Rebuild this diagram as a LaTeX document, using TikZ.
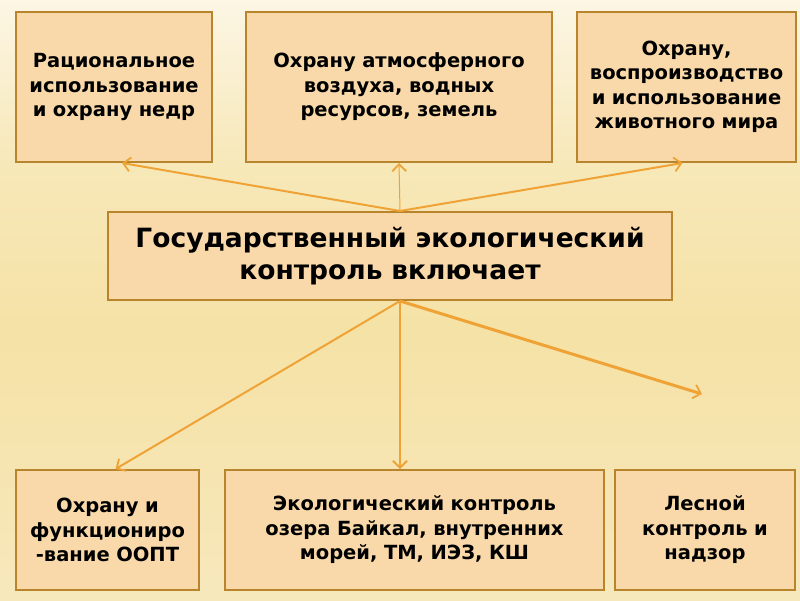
\documentclass[tikz,border=0pt]{standalone}
\usepackage{fontspec}
\setmainfont{DejaVu Sans}
\usetikzlibrary{arrows.meta}
\definecolor{boxfill}{HTML}{F9D9A9}
\definecolor{boxline}{HTML}{B8842C}
\definecolor{arrowc}{HTML}{EFA336}
\definecolor{bgtop}{HTML}{FCF6E4}
\definecolor{bgmid}{HTML}{F5E2A6}
\definecolor{bgbot}{HTML}{F7E8BC}
\tikzset{
  box/.style={draw=boxline, fill=boxfill, line width=2pt, align=center,
    inner sep=0pt, font=\bfseries\fontsize{19.5}{24.5}\selectfont},
  link/.style={draw=arrowc, line width=2pt,
    -{Straight Barb[length=7pt,width=14pt,line width=1.8pt]}},
}
\begin{document}
\begin{tikzpicture}[x=1pt, y=-1pt]
  % Фон
  \shade[top color=bgtop, bottom color=bgmid, middle color=bgmid!70!bgtop]
    (0,0) rectangle (800,330);
  \shade[top color=bgmid, bottom color=bgbot] (0,330) rectangle (800,600);
  \useasboundingbox (0,0) rectangle (800,600);

  % Верхний ряд
  \node[box, minimum width=196pt, minimum height=150pt, text width=190pt]
    (nedra) at (114,87) {Рациональное\\использование\\и охрану недр};
  \node[box, minimum width=306pt, minimum height=150pt, text width=290pt]
    (vozduh) at (399,87) {Охрану атмосферного\\воздуха, водных\\ресурсов, земель};
  \node[box, minimum width=219pt, minimum height=150pt, text width=215pt]
    (fauna) at (686.5,87) {Охрану,\\воспроизводство\\и использование\\животного мира};

  % Центр
  \node[box, minimum width=564pt, minimum height=88pt, text width=550pt,
    font=\bfseries\fontsize{26.5}{32}\selectfont]
    (kontrol) at (390,256) {Государственный экологический\\контроль включает};

  % Нижний ряд
  \node[box, minimum width=183pt, minimum height=120pt, text width=180pt]
    (oopt) at (107.5,530) {Охрану и\\функциониро\\-вание ООПТ};
  \node[box, minimum width=379pt, minimum height=120pt, text width=365pt]
    (baikal) at (414.5,530) {Экологический контроль\\озера Байкал, внутренних\\морей, ТМ, ИЭЗ, КШ};
  \node[box, minimum width=180pt, minimum height=120pt, text width=170pt]
    (les) at (705,530) {Лесной\\контроль и\\надзор};

  % Стрелки
  \coordinate (up) at (400,211);
  \coordinate (down) at (400,301);
  \coordinate (free) at (702,394);
  \draw[link] (up) -- ([xshift=8pt]nedra.south);
  \draw[link, line width=1pt] (up) -- (vozduh.south);
  \draw[link] (up) -- ([xshift=-4pt]fauna.south);
  \draw[link] (down) -- ([xshift=8pt]oopt.north);
  \draw[link, line width=2.5pt] (down) -- (baikal.north -| down);
  \draw[link, line width=3pt] (down) -- (free);
\end{tikzpicture}
\end{document}
